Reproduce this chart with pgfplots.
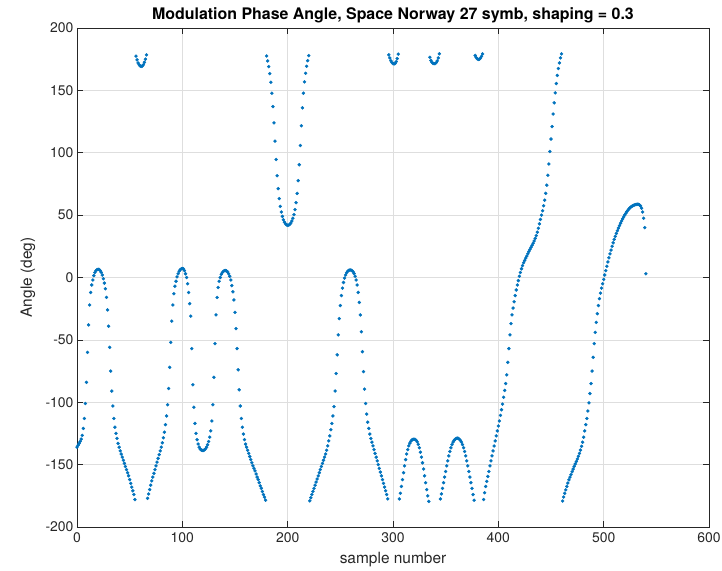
\documentclass[border=0pt]{standalone}
\usepackage{pgfplots}
\pgfplotsset{compat=1.18}
\usepackage{fontspec}
\setmainfont{TeX Gyre Heros}
\definecolor{mblue}{RGB}{0,114,189}
\definecolor{maxis}{RGB}{38,38,38}
\begin{document}
\begin{tikzpicture}
\begin{axis}[
  scale only axis, width=632bp, height=499bp,
  xmin=0, xmax=600, ymin=-200, ymax=200,
  xtick={0,100,...,600}, ytick={-200,-150,...,200},
  grid=major, major grid style={line width=0.5bp, draw=black!13},
  axis line style={draw=maxis, line width=0.6bp},
  tick style={draw=maxis, line width=0.6bp},
  tick align=inside, xtick pos=both, ytick pos=both, major tick length=6bp,
  ticklabel style={font=\fontsize{14}{16}\selectfont, text=maxis},
  xticklabel style={yshift=-2bp},
  /pgf/number format/assume math mode=true,
  scaled ticks=false,
  title={Modulation Phase Angle, Space Norway 27 symb, shaping = 0.3},
  title style={font=\bfseries\fontsize{16}{18}\selectfont, text=black, at={(axis description cs:0.5,1.014)}, anchor=center, yshift=0pt},
  xlabel={sample number}, ylabel={Angle (deg)},
  label style={font=\fontsize{15.5}{17}\selectfont, text=maxis},
  xlabel style={at={(axis description cs:0.5,-0.066)}, anchor=center, yshift=0pt},
  ylabel style={at={(axis description cs:-0.0775,0.5)}, anchor=center},
]
\addplot[color=mblue, only marks, mark=*, mark size=1.5bp, mark options={draw=none, fill=mblue}] coordinates {
(0,-136) (1,-134.5) (2,-133) (3,-131.5) (4,-129.5) (5,-126.5) (6,-121) (7,-113) (8,-101) (9,-84)
(10,-60) (11,-38) (12,-22) (13,-12) (14,-6) (15,-2) (16,1.5) (17,4) (18,5.5) (19,6.3)
(20,6.6) (21,6.4) (22,5.6) (23,4.2) (24,2) (25,-1) (26,-4.5) (27,-9) (28,-16) (29,-26)
(30,-39) (31,-56) (32,-75) (33,-91) (34,-103) (35,-113) (36,-120) (37,-125) (38,-129) (39,-133)
(40,-136) (41,-139) (42,-141.5) (43,-144) (44,-146.5) (45,-149) (46,-151.5) (47,-154) (48,-156.5) (49,-159)
(50,-162) (51,-165) (52,-168) (53,-171) (54,-174) (55,-178) (56,177.5) (57,174.5) (58,172) (59,170.5)
(60,169.5) (61,169.2) (62,169.5) (63,170.5) (64,172.5) (65,175) (66,178.5) (67,-177) (68,-173.5) (69,-170)
(70,-166.5) (71,-163) (72,-160) (73,-157) (74,-154) (75,-151) (76,-148) (77,-145) (78,-142) (79,-139)
(80,-136) (81,-132.5) (82,-128.5) (83,-124) (84,-118) (85,-111) (86,-102) (87,-89) (88,-72) (89,-52)
(90,-35) (91,-22) (92,-13) (93,-7) (94,-3) (95,0.5) (96,3) (97,5) (98,6.3) (99,7)
(100,7.2) (101,7) (102,5.5) (103,3) (104,0) (105,-5) (106,-12) (107,-21) (108,-31) (109,-57)
(110,-86) (111,-104) (112,-117) (113,-125) (114,-130) (115,-133.5) (116,-136) (117,-137.5) (118,-138.3) (119,-138.6)
(120,-138.6) (121,-138.2) (122,-137.3) (123,-136) (124,-134) (125,-131.5) (126,-128) (127,-123) (128,-115) (129,-102)
(130,-80) (131,-53) (132,-30) (133,-16) (134,-8) (135,-3) (136,0) (137,2.5) (138,4) (139,5)
(140,5.5) (141,5.6) (142,5.3) (143,4.5) (144,3) (145,1) (146,-2) (147,-6.5) (148,-11.5) (149,-18)
(150,-28) (151,-41) (152,-57) (153,-74) (154,-90) (155,-103) (156,-113) (157,-120) (158,-125.5) (159,-130)
(160,-133.5) (161,-136) (162,-138.5) (163,-141) (164,-143.5) (165,-146) (166,-148.5) (167,-151) (168,-153) (169,-155)
(170,-157.5) (171,-160) (172,-162) (173,-164.5) (174,-167) (175,-169) (176,-171.5) (177,-174) (178,-176) (179,-178.5)
(180,177.6) (181,173.6) (182,169) (183,163.4) (184,156.5) (185,147.7) (186,137) (187,124) (188,109.3) (189,94.6)
(190,81.6) (191,71.2) (192,63.2) (193,57) (194,52.5) (195,49) (196,46.3) (197,44.3) (198,43) (199,42.2)
(200,41.9) (201,42) (202,42.6) (203,43.7) (204,45.3) (205,47.5) (206,50.4) (207,54.4) (208,60) (209,67.4)
(210,77.6) (211,90.4) (212,105.8) (213,121.6) (214,136) (215,147.7) (216,156.8) (217,163.7) (218,169.3) (219,173.8)
(220,177.8) (221,-179) (222,-176.5) (223,-174) (224,-171.5) (225,-169) (226,-166.5) (227,-164) (228,-161.5) (229,-159)
(230,-156.5) (231,-154) (232,-151.5) (233,-149) (234,-146.5) (235,-144) (236,-141.5) (237,-138.5) (238,-135) (239,-131)
(240,-127) (241,-122) (242,-117) (243,-111) (244,-103.5) (245,-91) (246,-77) (247,-62) (248,-46) (249,-33)
(250,-22.5) (251,-14.5) (252,-8.5) (253,-4) (254,-0.5) (255,2) (256,3.8) (257,5) (258,5.7) (259,6)
(260,6) (261,5.6) (262,4.7) (263,3.2) (264,1) (265,-2) (266,-6) (267,-12) (268,-20) (269,-30)
(270,-43.5) (271,-59.5) (272,-75.5) (273,-89.5) (274,-101) (275,-109.5) (276,-116) (277,-121) (278,-125.5) (279,-129)
(280,-132) (281,-135) (282,-138) (283,-141) (284,-144) (285,-147) (286,-150) (287,-153) (288,-156) (289,-159)
(290,-162) (291,-165) (292,-168) (293,-171) (294,-174) (295,-177.5) (296,178.5) (297,176) (298,173.8) (299,172.3)
(300,171.5) (301,171.2) (302,171.6) (303,173) (304,175.5) (305,179) (306,-177.5) (307,-173) (308,-167.5) (309,-162)
(310,-156.5) (311,-151) (312,-146) (313,-141.5) (314,-138) (315,-135) (316,-132.8) (317,-131.2) (318,-130.2) (319,-129.7)
(320,-129.6) (321,-129.8) (322,-130.5) (323,-131.8) (324,-133.8) (325,-136.5) (326,-140) (327,-144) (328,-148.5) (329,-153.5)
(330,-159) (331,-164.5) (332,-170) (333,-175) (334,-179.5) (335,176.5) (336,174) (337,172.5) (338,171.7) (339,171.4)
(340,171.5) (341,172.2) (342,173.6) (343,176) (344,179.3) (345,-177.5) (346,-173.5) (347,-169) (348,-164.5) (349,-160)
(350,-155.5) (351,-151) (352,-147) (353,-143) (354,-139.5) (355,-136.5) (356,-134) (357,-132) (358,-130.6) (359,-129.6)
(360,-129) (361,-128.8) (362,-129) (363,-129.6) (364,-130.6) (365,-132) (366,-134) (367,-136.5) (368,-139.5) (369,-143)
(370,-147) (371,-151) (372,-155.5) (373,-160) (374,-164.5) (375,-169) (376,-174) (377,-178.5) (378,178) (379,176.3)
(380,175.2) (381,174.8) (382,175) (383,175.8) (384,177.2) (385,179.2) (386,-178) (387,-172.5) (388,-167.5) (389,-163.5)
(390,-159.5) (391,-155.5) (392,-151) (393,-147) (394,-143) (395,-139) (396,-135) (397,-131) (398,-127) (399,-123)
(400,-119) (401,-115) (402,-110.5) (403,-106) (404,-101.5) (405,-96) (406,-90.5) (407,-85) (408,-78) (409,-68)
(410,-57) (411,-46) (412,-37) (413,-30) (414,-24.5) (415,-19.5) (416,-14.5) (417,-10) (418,-6) (419,-2.5)
(420,1) (421,4) (422,7) (423,9.5) (424,11.8) (425,13.7) (426,15.5) (427,17.2) (428,19) (429,20.8)
(430,22.5) (431,24.2) (432,25.8) (433,27.5) (434,29.3) (435,31.3) (436,33.6) (437,36.3) (438,39.5) (439,43)
(440,46.5) (441,50) (442,53.5) (443,57.5) (444,62) (445,67.5) (446,74) (447,82) (448,91) (449,101)
(450,111) (451,121) (452,131) (453,140) (454,148) (455,155.5) (456,162) (457,167.5) (458,172) (459,176)
(460,179.3) (461,-179.2) (462,-176) (463,-173) (464,-170.3) (465,-167.5) (466,-164.8) (467,-162.2) (468,-160) (469,-158)
(470,-155.7) (471,-153.6) (472,-151.5) (473,-149.5) (474,-147.5) (475,-145.5) (476,-143.3) (477,-141) (478,-138.3) (479,-135.3)
(480,-132) (481,-128) (482,-123) (483,-118) (484,-113) (485,-107) (486,-100.5) (487,-93) (488,-85) (489,-75)
(490,-64) (491,-53) (492,-44) (493,-36) (494,-29) (495,-22.5) (496,-17) (497,-12.5) (498,-8.5) (499,-5)
(500,-1.5) (501,2) (502,5.5) (503,9) (504,12.5) (505,15.8) (506,19) (507,22) (508,25) (509,27.8)
(510,30.5) (511,33) (512,35.3) (513,37.5) (514,39.6) (515,41.6) (516,43.5) (517,45.3) (518,47) (519,48.6)
(520,50.1) (521,51.5) (522,52.8) (523,54) (524,55) (525,55.9) (526,56.6) (527,57.2) (528,57.7) (529,58.1)
(530,58.4) (531,58.6) (532,58.7) (533,58.6) (534,58.2) (535,57.3) (536,55.5) (537,52.5) (538,47.5) (539,40)
(540,3)
};
\end{axis}
\pgfresetboundingbox
\path ([xshift=-77bp,yshift=-44bp]current axis.south west) rectangle ([xshift=13bp,yshift=28bp]current axis.north east);
\end{tikzpicture}
\end{document}
